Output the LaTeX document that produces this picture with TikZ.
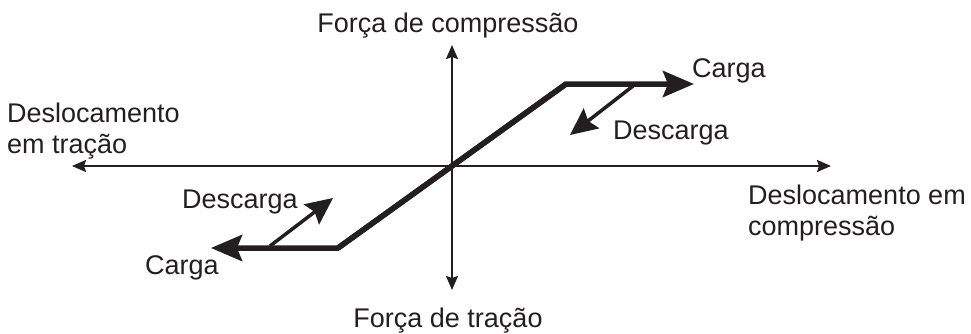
\documentclass[tikz,border=0pt]{standalone}
\usepackage{fontspec}
\setmainfont{Liberation Sans}
\usetikzlibrary{arrows.meta,positioning}
\definecolor{inkdark}{HTML}{231F20}

\begin{document}
\begin{tikzpicture}[x=1pt,y=-1pt,
    label/.style={text=inkdark, font=\fontsize{27}{31}\selectfont, inner sep=0pt},
    axis/.style={draw=inkdark, line width=2pt, {Stealth[length=14pt,width=12pt,inset=2pt]}-{Stealth[length=14pt,width=12pt,inset=2pt]}},
    curve/.style={draw=inkdark, line width=5.5pt, -{Stealth[length=31pt,width=26pt,inset=5pt]}},
    unload/.style={draw=inkdark, line width=3.5pt, -{Stealth[length=27pt,width=25pt,inset=4pt]}}]
\useasboundingbox (0,0) rectangle (971,333);
% eixos
\coordinate (xneg) at (72,166);
\coordinate (xpos) at (831,166);
\coordinate (ytop) at (452,45);
\coordinate (ybot) at (452,290);
\draw[axis] (xneg) -- (xpos);
\draw[axis] (ybot) -- (ytop);
% curva carga
\coordinate (lowcorner) at (338,248);
\coordinate (upcorner) at (566,84);
\coordinate (uptip) at (694,84);
\coordinate (lowtip) at (211,248);
\draw[curve, line join=miter] (lowcorner) -- (upcorner) -- (uptip);
\draw[curve, line join=miter] (upcorner) -- (lowcorner) -- (lowtip);
% descarga
\coordinate (upstart) at (633,86);
\coordinate (upend) at (570,135);
\coordinate (lowstart) at (270,246);
\coordinate (lowend) at (333,198);
\draw[unload] (upstart) -- (upend);
\draw[unload] (lowstart) -- (lowend);
% textos
\node[label, anchor=base] (fcomp) at (448,32) {Força de compressão};
\node[label, anchor=base] (ftrac) at (448,327) {Força de tração};
\node[label, align=left, anchor=base west] (dtrac) at (7,153) {Deslocamento\\em tração};
\node[label, align=left, anchor=base west] (dcomp) at (748,235) {Deslocamento em\\compressão};
\node[label, anchor=base west] (cargaup) at (692,77) {Carga};
\node[label, anchor=base west] (descup) at (613,139) {Descarga};
\node[label, anchor=base west] (desclow) at (182,208) {Descarga};
\node[label, anchor=base west] (cargalow) at (145,274) {Carga};
\end{tikzpicture}
\end{document}
